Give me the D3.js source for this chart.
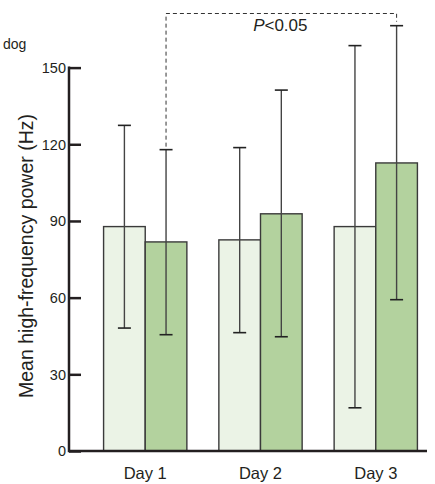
<!DOCTYPE html>
<html><head><meta charset="utf-8">
<script src="https://cdn.jsdelivr.net/npm/d3@7"></script>
<style>html,body{margin:0;padding:0;background:#fff;}svg{display:block;font-family:"Liberation Sans",Arial,sans-serif;}</style>
</head><body>
<svg id="c" width="435" height="484"></svg>
<script>
const categories = ["Day 1", "Day 2", "Day 3"];
const series = ["before", "after"];
const means = [[87.8, 81.8], [82.6, 92.8], [87.8, 112.7]];
const upper = [[127.4, 117.9], [118.7, 141.2], [158.6, 166.4]];
const lower = [[48.1, 45.5], [46.3, 44.7], [16.9, 59.2]];
const yTicks = [0, 30, 60, 90, 120, 150];
const colors = ["#ebf3e6", "#b3d29e"];
const yLabel = "Mean high-frequency power (Hz)";
const cornerLabel = "dog";
const sigLabel = "<0.05";

const svg = d3.select("#c");
const axisX0 = 69, axisX1 = 427;
const y = d3.scaleLinear().domain([0, 150]).range([451, 67.6]);
const x = d3.scaleBand().domain(categories).range([69, 452]).paddingInner(0.2775).paddingOuter(0.3);
const xs = d3.scaleBand().domain(series).range([0, x.bandwidth()]);

// bars
const g = svg.append("g");
categories.forEach((c, i) => {
  series.forEach((s, j) => {
    g.append("rect")
      .attr("x", x(c) + xs(s)).attr("y", y(means[i][j]))
      .attr("width", xs.bandwidth()).attr("height", y(0) - y(means[i][j]))
      .attr("fill", colors[j]).attr("stroke", "#3a3a3a").attr("stroke-width", 1.4);
  });
});
// error bars
categories.forEach((c, i) => {
  series.forEach((s, j) => {
    const cx = x(c) + xs(s) + xs.bandwidth() / 2;
    g.append("line").attr("x1", cx).attr("x2", cx)
      .attr("y1", y(upper[i][j])).attr("y2", y(lower[i][j]))
      .attr("stroke", "#444").attr("stroke-width", 1.4);
    [upper[i][j], lower[i][j]].forEach(v => {
      g.append("line").attr("x1", cx - 6.5).attr("x2", cx + 6.5)
        .attr("y1", y(v)).attr("y2", y(v))
        .attr("stroke", "#222").attr("stroke-width", 1.6);
    });
  });
});

// axes
const yAxis = d3.axisRight(y).tickValues(yTicks).tickSize(12).tickFormat("");
const ya = svg.append("g").attr("transform", `translate(${axisX0},0)`).call(yAxis);
ya.select(".domain").remove();
ya.selectAll("line").attr("stroke", "#231f20").attr("stroke-width", 2.5);
yTicks.forEach(t => {
  svg.append("text").attr("x", 66).attr("y", y(t)).attr("dy", "0.36em")
    .attr("text-anchor", "end").attr("font-size", 14.5).attr("fill", "#231f20").text(t);
});
svg.append("line").attr("x1", axisX0).attr("x2", axisX0).attr("y1", y(150) - 1.2).attr("y2", y(0) + 1.2)
  .attr("stroke", "#231f20").attr("stroke-width", 2.5);
svg.append("line").attr("x1", axisX0).attr("x2", axisX1).attr("y1", y(0)).attr("y2", y(0))
  .attr("stroke", "#231f20").attr("stroke-width", 2.5);

categories.forEach(c => {
  svg.append("text").attr("x", x(c) + x.bandwidth() / 2).attr("y", 479)
    .attr("text-anchor", "middle").attr("font-size", 16.5).attr("fill", "#231f20").text(c);
});

svg.append("text").attr("transform", `translate(33,256) rotate(-90)`)
  .attr("text-anchor", "middle").attr("font-size", 19.5).attr("fill", "#231f20").text(yLabel);
svg.append("text").attr("x", 3).attr("y", 49).attr("font-size", 14).attr("fill", "#231f20").text(cornerLabel);

// significance bracket
const bx1 = x(categories[0]) + xs(series[1]) + xs.bandwidth() / 2;
const bx2 = x(categories[2]) + xs(series[1]) + xs.bandwidth() / 2;
const topY = 13.5;
svg.append("path")
  .attr("d", `M${bx1},${y(upper[0][1]) - 3}V${topY}H${bx2}V${y(upper[2][1]) - 4}`)
  .attr("fill", "none").attr("stroke", "#333").attr("stroke-width", 1).attr("stroke-dasharray", "4,3");
const st = svg.append("text").attr("x", (bx1 + bx2) / 2 - 1).attr("y", 31)
  .attr("text-anchor", "middle").attr("font-size", 17).attr("fill", "#231f20");
st.append("tspan").attr("font-style", "italic").text("P");
st.append("tspan").text(sigLabel);
</script>
</body></html>
